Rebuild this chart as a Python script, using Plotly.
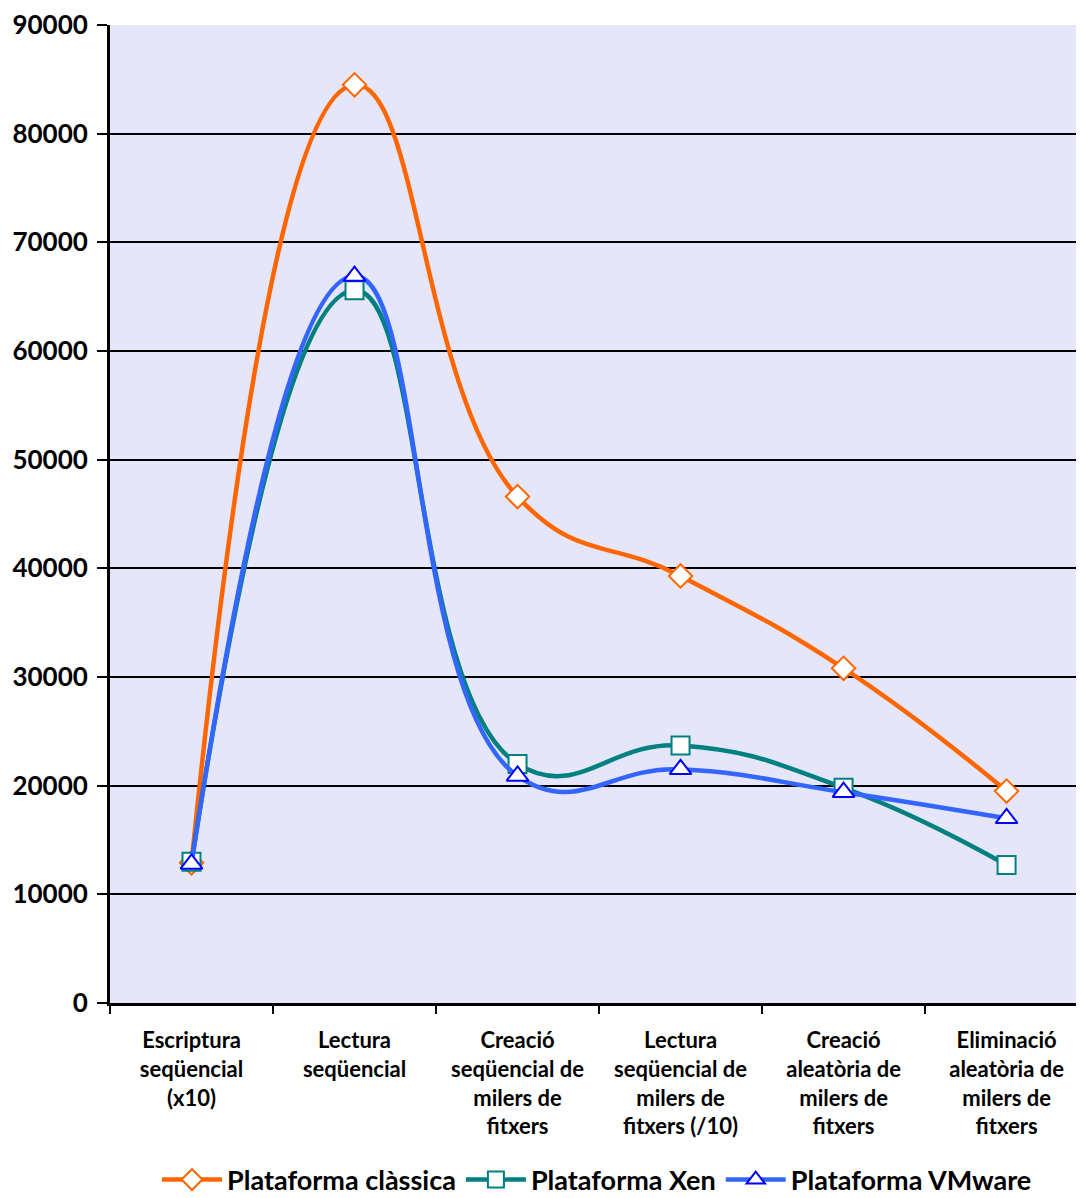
import plotly.graph_objects as go

categories = [
    "Escriptura<br>seqüencial<br>(x10)",
    "Lectura<br>seqüencial",
    "Creació<br>seqüencial de<br>milers de<br>fitxers",
    "Lectura<br>seqüencial de<br>milers de<br>fitxers (/10)",
    "Creació<br>aleatòria de<br>milers de<br>fitxers",
    "Eliminació<br>aleatòria de<br>milers de<br>fitxers",
]
classica = [12900, 84500, 46600, 39300, 30800, 19500]
xen = [13000, 65600, 22000, 23700, 19800, 12700]
vmware = [12800, 66900, 20900, 21500, 19400, 17000]
y_ticks = [0, 10000, 20000, 30000, 40000, 50000, 60000, 70000, 80000, 90000]

SMOOTH = 1.3

fig = go.Figure()
fig.add_trace(go.Scatter(
    x=categories, y=classica, name="Plataforma clàssica", mode="lines+markers",
    line=dict(color="#FF6600", width=4.5, shape="spline", smoothing=SMOOTH),
    marker=dict(symbol="diamond", size=18, color="white", line=dict(color="#FF6600", width=2)),
))
fig.add_trace(go.Scatter(
    x=categories, y=xen, name="Plataforma Xen", mode="lines+markers",
    line=dict(color="#008080", width=4.5, shape="spline", smoothing=SMOOTH),
    marker=dict(symbol="square", size=18, color="white", line=dict(color="#008080", width=2)),
))
fig.add_trace(go.Scatter(
    x=categories, y=vmware, name="Plataforma VMware", mode="lines+markers",
    line=dict(color="#3366FF", width=4.5, shape="spline", smoothing=SMOOTH),
    marker=dict(symbol="triangle-up", size=19, color="white", line=dict(color="#0000FF", width=2)),
))

fig.update_layout(
    width=1076, height=1190,
    margin=dict(l=102, r=0, t=17, b=195, autoexpand=False),
    paper_bgcolor="white", plot_bgcolor="#E6E6FA",
    font=dict(family="Lato", color="black", size=22, weight="bold"),
    showlegend=True,
    legend=dict(orientation="h", x=0.5, xanchor="center", y=-0.181, yanchor="middle",
                font=dict(size=27, family="Lato", weight="bold"), itemwidth=60,
                bgcolor="rgba(0,0,0,0)", traceorder="normal"),
)
fig.update_xaxes(
    type="category", range=[-0.5, 5.475], automargin=False,
    showline=True, linecolor="black", linewidth=3,
    ticks="outside", tickson="boundaries", ticklen=8, tickwidth=2, tickcolor="black",
    showgrid=False, tickfont=dict(size=22, family="Lato", weight="bold"),
    ticklabelstandoff=16,
)
fig.update_yaxes(
    range=[0, 90000], tickvals=y_ticks, ticktext=[str(v) for v in y_ticks], automargin=False,
    showline=True, linecolor="black", linewidth=3,
    ticks="outside", ticklen=10, tickwidth=2, tickcolor="black",
    showgrid=True, gridcolor="black", gridwidth=2, zeroline=False,
    tickfont=dict(size=26, family="Lato", weight="bold"),
    ticklabelstandoff=4,
)

fig.write_html("out.html")
